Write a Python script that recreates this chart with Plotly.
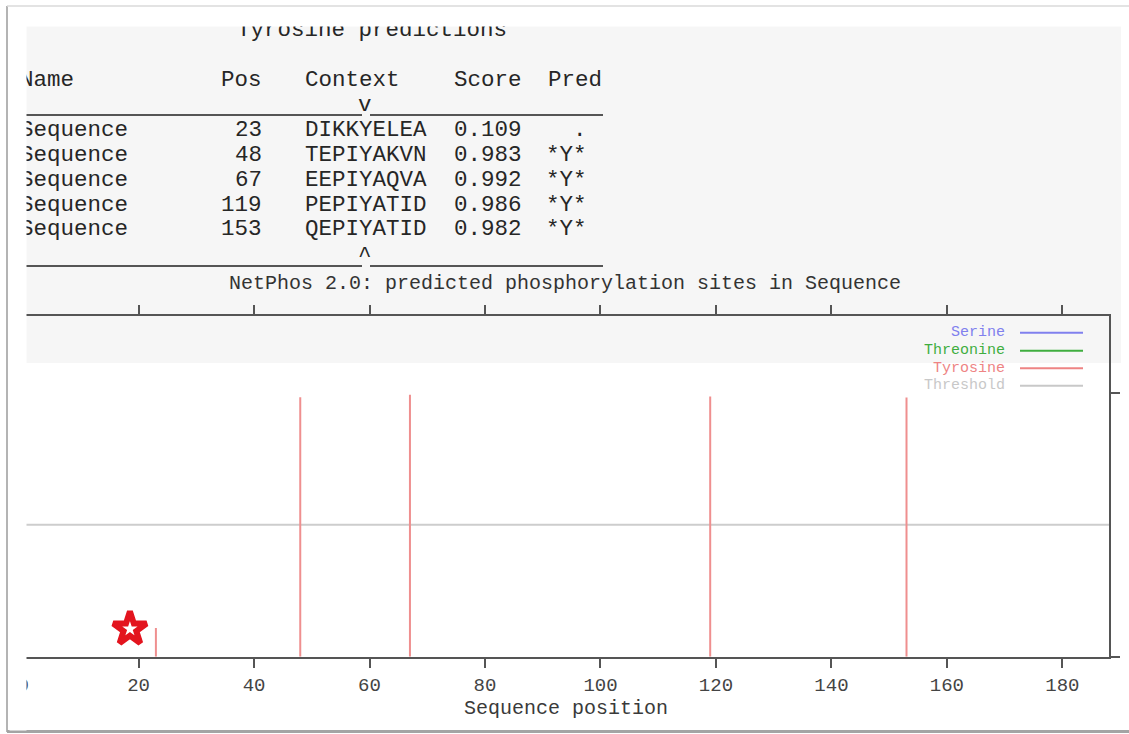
import plotly.graph_objects as go

W, H = 1129, 734

# ---------------- data ----------------
seq_names = ["Sequence", "Sequence", "Sequence", "Sequence", "Sequence"]
positions = [23, 48, 67, 119, 153]
contexts = ["DIKKYELEA", "TEPIYAKVN", "EEPIYAQVA", "PEPIYATID", "QEPIYATID"]
scores = [0.109, 0.983, 0.992, 0.986, 0.982]
preds = [".", "*Y*", "*Y*", "*Y*", "*Y*"]
threshold = 0.5
x_ticks = [0, 20, 40, 60, 80, 100, 120, 140, 160, 180]
x_tick_labels = ["0", "20", "40", "60", "80", "100", "120", "140", "160", "180"]
legend_names = ["Serine", "Threonine", "Tyrosine", "Threshold"]
legend_colors = ["#8080ee", "#3fae3f", "#ee8484", "#c8c8c8"]
star_x = [18.5]
star_y = [0.105]
x_range = [0, 188.07]
y_range = [0, 1.2905]

# ---------------- helpers (pixel -> paper) ----------------
def X(px):
    return px / W

def Y(py):
    return 1 - py / H

MONO = "Liberation Mono"
TABLE_SIZE = 22.5
GP_SIZE = 20
annotations = []
shapes = []

def txt(s, px, py, anchor="left", size=TABLE_SIZE, color="#262626"):
    annotations.append(dict(
        text=s, x=X(px), y=Y(py), xref="paper", yref="paper",
        xanchor=anchor, yanchor="middle", showarrow=False, borderpad=0,
        font=dict(family=MONO, size=size, color=color)))

def hline(px0, px1, py, color, width):
    shapes.append(dict(type="line", xref="paper", yref="paper",
                       x0=X(px0), x1=X(px1), y0=Y(py), y1=Y(py),
                       line=dict(color=color, width=width), layer="above"))

def vline(px, py0, py1, color, width):
    shapes.append(dict(type="line", xref="paper", yref="paper",
                       x0=X(px), x1=X(px), y0=Y(py0), y1=Y(py1),
                       line=dict(color=color, width=width), layer="above"))

# gray band behind the table / top of plot
shapes.append(dict(type="rect", xref="paper", yref="paper",
                   x0=X(25), x1=X(1121), y0=Y(363), y1=Y(25),
                   fillcolor="#f6f6f6", line=dict(width=0), layer="below"))

# ---------------- text table ----------------
x0, cw = 19, 13.55
def cx(ch):
    return x0 + ch * cw

txt("Tyrosine predictions", cx(16), 30)
txt("Name", cx(0), 80)
txt("Pos", cx(18), 80, "right")
txt("Context", cx(21), 80)
txt("Score", cx(32), 80)
txt("Pred", cx(39), 80)
txt("v", cx(25.5), 105, "center")
row_y = [130, 155, 180, 204.5, 229]
for i in range(len(positions)):
    yy = row_y[i]
    txt(seq_names[i], cx(0), yy)
    txt(str(positions[i]), cx(18), yy, "right")
    txt(contexts[i], cx(21), yy)
    txt(f"{scores[i]:.3f}", cx(32), yy)
    txt(preds[i], cx(42), yy, "right")
txt("^", cx(25.5), 256, "center")

for yy in (115, 266):
    hline(25, 362, yy, "#555555", 2)
    hline(370, 603, yy, "#555555", 2)

# ---------------- legend (gnuplot style: text then line) ----------------
leg_y = [332.7, 350.7, 368.3, 385.7]
for name, col, yy in zip(legend_names, legend_colors, leg_y):
    txt(name, 1006, yy, "right", size=15, color=col)
    hline(1020, 1083, yy, col, 2)

# ---------------- frame of the screenshot ----------------
vline(7, 6, 732, "#b4b4b4", 2)
hline(7, 1129, 6, "#dadada", 1.5)
hline(7, 1129, 731.5, "#a4a4a4", 3)

# cover strips (crop of the original image)
annotations.append(dict(text=" ", x=X(9), y=Y(8), xref="paper", yref="paper",
                        xanchor="left", yanchor="top", showarrow=False,
                        width=16, height=721, bgcolor="white", borderpad=0))
annotations.append(dict(text=" ", x=X(9), y=Y(8), xref="paper", yref="paper",
                        xanchor="left", yanchor="top", showarrow=False,
                        width=1119, height=17, bgcolor="white", borderpad=0))

# ---------------- traces ----------------
bx, by = [], []
for p, s in zip(positions, scores):
    bx += [p, p, None]
    by += [0, s, None]

fig = go.Figure()
fig.add_trace(go.Scatter(x=[x_range[0], x_range[1]], y=[threshold, threshold],
                         mode="lines", line=dict(color="#cdcdcd", width=2),
                         name="Threshold", showlegend=False, hoverinfo="skip"))
fig.add_trace(go.Scatter(x=bx, y=by, mode="lines",
                         line=dict(color="#ef8f8f", width=2),
                         name="Tyrosine", showlegend=False))
fig.add_trace(go.Scatter(x=star_x, y=star_y, mode="markers",
                         marker=dict(symbol="star", size=25, color="white",
                                     line=dict(color="#e3141e", width=6)),
                         showlegend=False, hoverinfo="skip"))
fig.add_trace(go.Scatter(x=[None], y=[None], xaxis="x2", yaxis="y",
                         showlegend=False, hoverinfo="skip"))

axis_line = "#555555"
tick_font = dict(family=MONO, size=19, color="#444444")
title_font = dict(family=MONO, size=GP_SIZE, color="#3a3a3a")

fig.update_layout(
    width=W, height=H,
    margin=dict(l=0, r=0, t=0, b=0, pad=0, autoexpand=False),
    paper_bgcolor="white",
    plot_bgcolor="rgba(0,0,0,0)",
    showlegend=False,
    title=dict(text="NetPhos 2.0: predicted phosphorylation sites in Sequence",
               x=X(565), y=Y(282), xref="paper", yref="paper",
               xanchor="center", yanchor="middle", automargin=False,
               font=dict(family=MONO, size=GP_SIZE, color="#333333")),
    xaxis=dict(domain=[X(23.1), X(1109)], range=x_range, anchor="y",
               tickvals=x_ticks, ticktext=x_tick_labels,
               ticks="outside", ticklen=9, tickwidth=2, tickcolor=axis_line,
               showline=True, linecolor=axis_line, linewidth=2,
               showgrid=False, zeroline=False, tickfont=tick_font,
               ticklabelstandoff=0, automargin=False,
               title=dict(text="Sequence position", font=title_font, standoff=2),
               fixedrange=True),
    xaxis2=dict(domain=[X(23.1), X(1109)], range=x_range, overlaying="x",
                side="top", anchor="y", automargin=False,
                tickvals=x_ticks[1:], showticklabels=False,
                ticks="outside", ticklen=9, tickwidth=2, tickcolor=axis_line,
                showline=True, linecolor=axis_line, linewidth=2,
                showgrid=False, zeroline=False, fixedrange=True),
    yaxis=dict(domain=[Y(656.7), Y(316)], range=y_range, side="right",
               anchor="x", tickvals=[0, 1], showticklabels=False,
               ticks="outside", ticklen=9, tickwidth=2, tickcolor=axis_line,
               showline=True, linecolor=axis_line, linewidth=2, automargin=False,
               showgrid=False, zeroline=False, fixedrange=True),
    shapes=shapes,
    annotations=annotations,
)

fig.write_html("out.html", config={"displayModeBar": False})
